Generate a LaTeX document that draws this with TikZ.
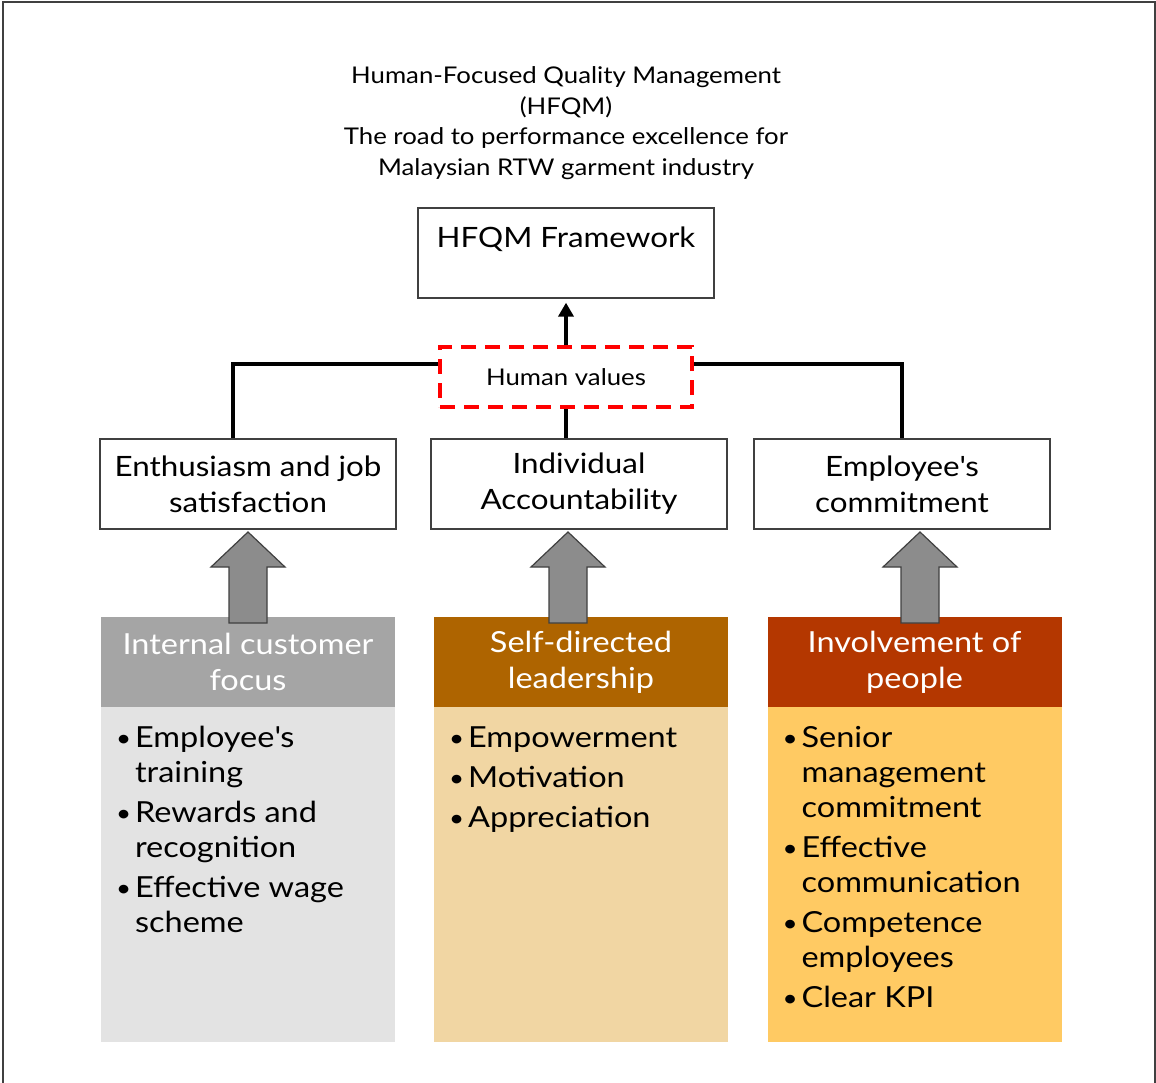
\documentclass[tikz,border=0pt]{standalone}
\usepackage{fontspec}
\setmainfont{Lato}[FakeStretch=1.12]
\usetikzlibrary{arrows.meta,calc,positioning}
\definecolor{hfGreyHead}{RGB}{165,165,165}
\definecolor{hfGreyBody}{RGB}{227,227,227}
\definecolor{hfBrownHead}{RGB}{174,100,0}
\definecolor{hfBrownBody}{RGB}{241,214,163}
\definecolor{hfRustHead}{RGB}{180,55,0}
\definecolor{hfRustBody}{RGB}{255,202,99}
\definecolor{hfEdge}{RGB}{64,64,64}
\definecolor{hfArrow}{RGB}{140,140,140}
\newcommand{\hfsize}[2]{\fontsize{#1}{#2}\selectfont}
\newcommand{\apos}{\textquotesingle}
\newcommand{\hfbul}{\raisebox{1pt}{\scalebox{0.8}{\textbullet}}}

\begin{document}
\begin{tikzpicture}[x=1pt,y=-1pt,
  framebox/.style={draw=hfEdge,line width=1.3pt,minimum width=296pt,minimum height=90pt,
    inner sep=0pt,align=center,font=\hfsize{28}{36}},
  headbox/.style={minimum width=294pt,minimum height=90pt,inner sep=0pt,
    align=center,text=white,font=\hfsize{29}{36}},
  bodybox/.style={minimum width=294pt,minimum height=335pt,inner sep=0pt,anchor=north},
  itemlist/.style={anchor=north west,inner sep=0pt,align=left,font=\hfsize{29}{35}},
  link/.style={line width=3.5pt},
  blockarrow/.style={fill=hfArrow,draw=hfEdge,line width=1.2pt,line join=miter}]
  \useasboundingbox (0,0) rectangle (1156,1083);
  \draw[hfEdge,line width=2pt] (3,1090) -- (3,2) -- (1155,2) -- (1155,1090);

  \node[align=center,font=\hfsize{23}{30.5}] (title) at (566,123)
    {Human-Focused Quality Management\\(HFQM)\\The road to performance excellence for\\Malaysian RTW garment industry};

  % top of the framework
  \node[framebox] (hfqm) at (566,253) {};
  \node[font=\hfsize{28}{36}] (hfqmtext) at ([yshift=-32pt]hfqm.north) {HFQM Framework};
  \node[draw=red,line width=3.5pt,dash pattern=on 15pt off 9pt,minimum width=252pt,
    minimum height=60pt,font=\hfsize{23}{28}] (values) at (566,377) {Human values};

  \node[framebox] (enth) at (248,484) {Enthusiasm and job\\satisfaction};
  \node[framebox] (acct) at (579,484) {Individual\\Accountability};
  \node[framebox] (commit) at (902,484) {Employee\apos s\\commitment};

  \draw[link,-{Triangle[length=14pt,width=15pt]},shorten >=4pt] (values.north) -- (hfqm.south);
  \draw[link] ([yshift=13pt]values.west) -| ([xshift=-15pt]enth.north);
  \draw[link] ([yshift=13pt]values.east) -| (commit.north);
  \draw[link] (values.south) -- (values.south |- acct.north);

  % the three pillars
  \node[headbox,fill=hfGreyHead] (focus) at (248,662) {Internal customer\\focus};
  \node[headbox,fill=hfBrownHead] (lead) at (581,662) {Self-directed\\leadership};
  \node[headbox,fill=hfRustHead] (people) at (914.5,662) {Involvement of\\people};
  \node[bodybox,fill=hfGreyBody] (focusbody) at (focus.south) {};
  \node[bodybox,fill=hfBrownBody] (leadbody) at (lead.south) {};
  \node[bodybox,fill=hfRustBody] (peoplebody) at (people.south) {};

  \node[itemlist] (focusitems) at ([xshift=15pt,yshift=-16pt]focusbody.north west)
    {\begin{tabular}{@{}l@{\hspace{4pt}}l@{}}
      \hfbul & Employee\apos s\\ & training\\[5pt]
      \hfbul & Rewards and\\ & recognition\\[5pt]
      \hfbul & Effective wage\\ & scheme
    \end{tabular}};
  \node[itemlist] (leaditems) at ([xshift=15pt,yshift=-16pt]leadbody.north west)
    {\begin{tabular}{@{}l@{\hspace{4pt}}l@{}}
      \hfbul & Empowerment\\[5pt]
      \hfbul & Motivation\\[5pt]
      \hfbul & Appreciation
    \end{tabular}};
  \node[itemlist] (peopleitems) at ([xshift=15pt,yshift=-16pt]peoplebody.north west)
    {\begin{tabular}{@{}l@{\hspace{4pt}}l@{}}
      \hfbul & Senior\\ & management\\ & commitment\\[5pt]
      \hfbul & Effective\\ & communication\\[5pt]
      \hfbul & Competence\\ & employees\\[5pt]
      \hfbul & Clear KPI
    \end{tabular}};

  % block arrows from pillars to values
  \foreach \ax in {248,568,920}{
    \draw[blockarrow] (\ax-19,623) -- (\ax-19,567) -- (\ax-37,567) -- (\ax,532)
      -- (\ax+37,567) -- (\ax+19,567) -- (\ax+19,623) -- cycle;
  }
\end{tikzpicture}
\end{document}
